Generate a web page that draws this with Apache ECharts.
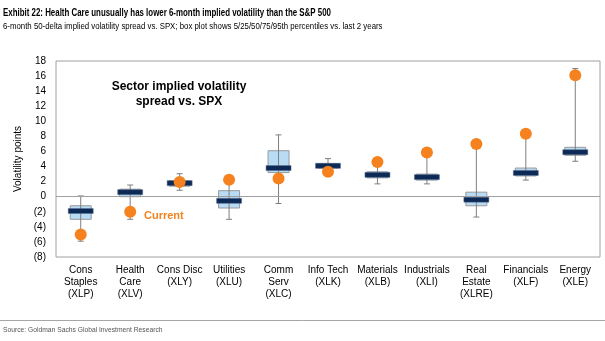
<!DOCTYPE html>
<html>
<head>
<meta charset="utf-8">
<script src="https://cdn.jsdelivr.net/npm/echarts@6/dist/echarts.min.js"></script>
<style>
  html, body { margin: 0; padding: 0; background: #fff; }
  #chart { width: 605px; height: 341px; }
</style>
</head>
<body>
<div id="chart"></div>
<script>
// Sector ETFs and their implied-vol spread percentiles (last 2 years)
const categories = [
  'Cons\nStaples\n(XLP)', 'Health\nCare\n(XLV)', 'Cons Disc\n(XLY)', 'Utilities\n(XLU)',
  'Comm\nServ\n(XLC)', 'Info Tech\n(XLK)', 'Materials\n(XLB)', 'Industrials\n(XLI)',
  'Real\nEstate\n(XLRE)', 'Financials\n(XLF)', 'Energy\n(XLE)'
];
const p5  = [-5.9, -3.0, 0.85, -3.0, -0.9, 3.7, 1.7, 1.7, -2.7, 2.2, 4.7];
const p25 = [-3.0,  0.0, 1.4, -1.5, 3.2, 3.8, 2.5, 2.2, -1.2, 2.75, 5.5];
const p50 = [-1.9,  0.6, 1.8, -0.55, 3.8, 4.1, 2.9, 2.6, -0.4, 3.15, 5.9];
const p75 = [-1.2,  1.0, 2.1,  0.8, 6.1, 4.4, 3.3, 3.0, 0.6, 3.8, 6.55];
const p95 = [ 0.1,  1.55, 3.05, 2.0, 8.2, 5.05, 4.2, 5.5, 6.8, 8.2, 17.0];
const current = [-5.0, -2.0, 1.95, 2.25, 2.4, 3.3, 4.6, 5.85, 7.0, 8.35, 16.1];

const yTicks = { min: -8, max: 18, interval: 2 };

const boxData = categories.map((c, i) => [i, p5[i], p25[i], p50[i], p75[i], p95[i]]);
const currentData = categories.map((c, i) => [i, current[i]]);

const chart = echarts.init(document.getElementById('chart'), null, { renderer: 'canvas' });

function renderBox(params, api) {
  const i = api.value(0);
  const lo = api.coord([i, api.value(1)]);
  const q1 = api.coord([i, api.value(2)]);
  const md = api.coord([i, api.value(3)]);
  const q3 = api.coord([i, api.value(4)]);
  const hi = api.coord([i, api.value(5)]);
  const x = lo[0];
  const boxW = 21, medW = 25, medH = 5, capW = 6;
  return {
    type: 'group',
    children: [
      { type: 'rect', shape: { x: x - boxW / 2, y: q3[1], width: boxW, height: q1[1] - q3[1] },
        style: { fill: '#b8dcf5', stroke: '#9a9a9a', lineWidth: 1 } },
      { type: 'line', shape: { x1: x, y1: lo[1], x2: x, y2: hi[1] },
        style: { stroke: '#7f7f7f', lineWidth: 1 } },
      { type: 'line', shape: { x1: x - capW / 2, y1: lo[1], x2: x + capW / 2, y2: lo[1] },
        style: { stroke: '#7f7f7f', lineWidth: 1 } },
      { type: 'line', shape: { x1: x - capW / 2, y1: hi[1], x2: x + capW / 2, y2: hi[1] },
        style: { stroke: '#7f7f7f', lineWidth: 1 } },
      { type: 'rect', shape: { x: x - medW / 2, y: md[1] - medH / 2, width: medW, height: medH },
        style: { fill: '#0c2a55', stroke: '#5a6f8c', lineWidth: 0.5 } }
    ]
  };
}

const option = {
  animation: false,
  textStyle: { fontFamily: 'Liberation Sans, Arial, sans-serif' },
  grid: { left: 56, right: 5, top: 61, bottom: 84, show: true, borderColor: '#a0a0a0', borderWidth: 1 },
  xAxis: {
    type: 'category',
    data: categories,
    axisLine: { show: false },
    axisTick: { show: false },
    splitLine: { show: false },
    axisLabel: { color: '#000', fontSize: 10, lineHeight: 12, margin: 7, interval: 0 }
  },
  yAxis: {
    type: 'value',
    min: yTicks.min, max: yTicks.max, interval: yTicks.interval,
    name: 'Volatility points',
    nameLocation: 'middle',
    nameRotate: 90,
    nameGap: 31,
    nameTextStyle: { color: '#000', fontSize: 10 },
    axisLine: { show: false },
    axisTick: { show: false },
    splitLine: { show: false },
    axisLabel: {
      color: '#000', fontSize: 10, margin: 10,
      formatter: v => (v < 0 ? '(' + (-v) + ')' : String(v))
    }
  },
  series: [
    {
      type: 'line',
      data: [],
      z: 1,
      silent: true,
      markLine: {
        silent: true, symbol: 'none', label: { show: false },
        lineStyle: { color: '#a0a0a0', width: 1, type: 'solid' },
        data: [{ yAxis: 0 }]
      }
    },
    {
      type: 'custom',
      z: 2,
      renderItem: renderBox,
      encode: { x: 0, y: [1, 2, 3, 4, 5] },
      data: boxData
    },
    {
      type: 'scatter',
      z: 3,
      symbol: 'circle',
      symbolSize: 12,
      itemStyle: { color: '#f5821f', opacity: 1 },
      data: currentData
    }
  ],
  graphic: [
    // condensed header text
    { type: 'text', x: 3, y: 8, scaleX: 0.79,
      style: { text: 'Exhibit 22: Health Care unusually has lower 6-month implied volatility than the S&P 500',
        font: 'bold 10px "Liberation Sans", Arial, sans-serif', fill: '#000' } },
    { type: 'text', x: 3, y: 22, scaleX: 0.87,
      style: { text: '6-month 50-delta implied volatility spread vs. SPX; box plot shows 5/25/50/75/95th percentiles vs. last 2 years',
        font: '9px "Liberation Sans", Arial, sans-serif', fill: '#000' } },
    { type: 'text', x: 179, y: 79,
      style: { text: 'Sector implied volatility\nspread vs. SPX', align: 'center', lineHeight: 15,
        font: 'bold 12px "Liberation Sans", Arial, sans-serif', fill: '#000' } },
    { type: 'text', x: 144, y: 210,
      style: { text: 'Current', font: 'bold 11px "Liberation Sans", Arial, sans-serif', fill: '#f5821f' } },
    { type: 'line', shape: { x1: 0, y1: 320.5, x2: 605, y2: 320.5 },
      style: { stroke: '#a6a6a6', lineWidth: 1 } },
    { type: 'text', x: 3, y: 326, scaleX: 0.84,
      style: { text: 'Source: Goldman Sachs Global Investment Research',
        font: '8px "Liberation Sans", Arial, sans-serif', fill: '#555' } }
  ]
};

chart.setOption(option);
</script>
</body>
</html>
